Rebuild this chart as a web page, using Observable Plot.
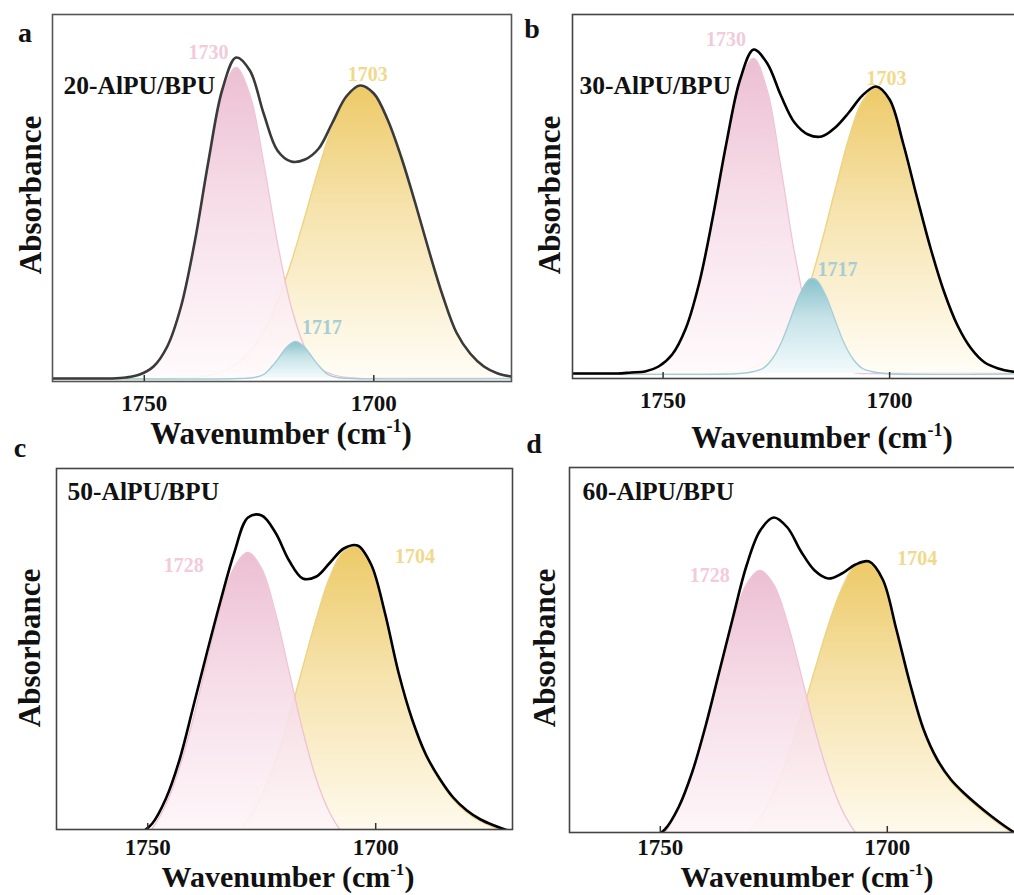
<!DOCTYPE html>
<html><head><meta charset="utf-8">
<script src="https://cdn.jsdelivr.net/npm/d3@7"></script>
<script src="https://cdn.jsdelivr.net/npm/@observablehq/plot@0.6"></script>
<style>
html,body{margin:0;padding:0;background:#fff;overflow:hidden;width:1014px;height:895px;}
#root{position:relative;width:1014px;height:895px;overflow:hidden;background:#fff;}
.panel{position:absolute;}
.panel svg{display:block;max-width:none;overflow:visible;}
</style></head><body><div id="root"></div>
<script>
// ---------- data (absorbance, a.u.) ----------
const xTicks = [1750, 1700];
const sampleNames = ["20-AlPU/BPU", "30-AlPU/BPU", "50-AlPU/BPU", "60-AlPU/BPU"];
const panelLetters = ["a", "b", "c", "d"];

// panels a, b wavenumber grid
const wnAB = [1772,1769,1766,1763,1760,1757,1754,1751,1748,1745,1742,1739,1736,1733,1730,1727,1724,1721,1718,1715,1712,1709,1706,1703,1700,1697,1694,1691,1688,1685,1682,1679,1676,1673,1670,1667];
// panels c, d wavenumber grid
const wnCD = [1773,1770,1767,1764,1761,1758,1755,1752,1749,1746,1743,1740,1737,1734,1731,1728,1725,1722,1719,1716,1713,1710,1707,1704,1701,1698,1695,1692,1689,1686,1683,1680,1677,1674,1671,1668];

// a: 20-AlPU/BPU
const envA    = [0,0,0,0,0,0,0.001,0.004,0.012,0.032,0.072,0.137,0.218,0.289,0.321,0.308,0.265,0.228,0.217,0.219,0.230,0.256,0.282,0.293,0.285,0.259,0.221,0.176,0.128,0.083,0.046,0.025,0.012,0.005,0.002,0.001];
const pinkA   = [0,0,0,0,0,0,0.001,0.004,0.011,0.031,0.072,0.136,0.216,0.284,0.311,0.284,0.216,0.136,0.072,0.031,0.011,0.004,0.001,0,0,0,0,0,0,0,0,0,0,0,0,0];
const yellowA = [0,0,0,0,0,0,0,0,0,0,0.001,0.001,0.003,0.007,0.014,0.027,0.047,0.077,0.116,0.162,0.210,0.252,0.281,0.292,0.284,0.258,0.220,0.175,0.127,0.082,0.045,0.024,0.011,0.005,0.002,0.001];
const blueWnA = [1772,1729,1726,1724,1722,1720,1719,1718,1717,1716,1715,1714,1712,1710,1708,1705,1667];
const blueA   = [0,0,0.001,0.004,0.013,0.025,0.031,0.035,0.037,0.035,0.031,0.025,0.013,0.004,0.001,0,0];

// b: 30-AlPU/BPU
const envB    = [0,0,0,0,0,0.001,0.002,0.007,0.019,0.045,0.091,0.157,0.231,0.294,0.324,0.310,0.278,0.251,0.239,0.237,0.246,0.261,0.278,0.287,0.274,0.230,0.177,0.126,0.082,0.048,0.025,0.011,0.005,0.002,0.001,0];
const pinkB   = [0,0,0,0,0,0.001,0.002,0.007,0.019,0.045,0.091,0.156,0.231,0.291,0.315,0.283,0.206,0.121,0.057,0.022,0.007,0.002,0,0,0,0,0,0,0,0,0,0,0,0,0,0];
const yellowB = [0,0,0,0,0,0,0,0,0,0,0,0,0.001,0.002,0.006,0.013,0.026,0.049,0.084,0.131,0.184,0.235,0.272,0.286,0.272,0.229,0.176,0.125,0.081,0.047,0.024,0.011,0.005,0.002,0.001,0];
const blueWnB = [1772,1733,1730,1728,1726,1724,1722,1720,1718,1717,1716,1714,1712,1710,1708,1706,1704,1701,1667];
const blueB   = [0,0,0.002,0.005,0.014,0.030,0.053,0.077,0.093,0.095,0.093,0.077,0.053,0.030,0.014,0.005,0.002,0,0];

// c: 50-AlPU/BPU
const envC    = [0,0.001,0.002,0.003,0.005,0.008,0.013,0.020,0.031,0.056,0.095,0.148,0.202,0.254,0.302,0.337,0.339,0.322,0.294,0.276,0.278,0.292,0.306,0.309,0.290,0.242,0.182,0.135,0.100,0.076,0.057,0.044,0.035,0.029,0.024,0.020];
const pinkC   = [0,0,0,0,0.001,0.002,0.005,0.012,0.026,0.050,0.087,0.136,0.193,0.247,0.287,0.302,0.286,0.242,0.183,0.124,0.075,0.041,0.020,0.009,0.003,0.001,0,0,0,0,0,0,0,0,0,0];
const yellowC = [0,0,0,0,0,0,0,0,0,0,0.001,0.002,0.005,0.010,0.019,0.035,0.059,0.093,0.137,0.187,0.236,0.278,0.303,0.307,0.287,0.239,0.180,0.133,0.098,0.074,0.055,0.042,0.033,0.027,0.022,0.018];

// d: 60-AlPU/BPU
const envD    = [0,0.001,0.002,0.003,0.005,0.008,0.013,0.019,0.028,0.050,0.085,0.132,0.186,0.240,0.292,0.327,0.340,0.330,0.306,0.287,0.279,0.284,0.293,0.296,0.278,0.228,0.174,0.128,0.098,0.078,0.064,0.052,0.041,0.031,0.022,0.014];
const pinkD   = [0,0,0,0,0.001,0.002,0.005,0.012,0.025,0.048,0.083,0.129,0.183,0.235,0.273,0.287,0.273,0.235,0.183,0.129,0.083,0.048,0.025,0.012,0.005,0.002,0.001,0,0,0,0,0,0,0,0,0];
const yellowD = [0,0,0,0,0,0,0,0,0,0.001,0.001,0.003,0.006,0.012,0.023,0.040,0.065,0.099,0.141,0.187,0.232,0.269,0.292,0.294,0.276,0.226,0.172,0.126,0.096,0.076,0.062,0.050,0.039,0.029,0.020,0.012];

// peak annotations: [wavenumber, absorbance, text, component]
const peakLabelsA = [[1736, 0.3255, "1730", "pink"], [1701.3, 0.3035, "1703", "yellow"], [1711.3, 0.051, "1717", "blue"]];
const peakLabelsB = [[1736.1, 0.3335, "1730", "pink"], [1700.7, 0.2945, "1703", "yellow"], [1711.5, 0.1035, "1717", "blue"]];
const peakLabelsC = [[1742.1, 0.2885, "1728", "pink"], [1691.4, 0.2975, "1704", "yellow"]];
const peakLabelsD = [[1739.1, 0.282, "1728", "pink"], [1693.4, 0.2985, "1704", "yellow"]];

// ---------- styling / layout ----------
const FONT = "'Liberation Serif','Times New Roman',Times,serif";
const comp = {
  pink:   {stops: ["#eab8ce", "#f5d9e5", "#fffafc"], edge: "#efc3d6", label: "#f2cadb"},
  yellow: {stops: ["#edca68", "#f6e3ad", "#fffdf6"], edge: "#eed383", label: "#f1d98c"},
  blue:   {stops: ["#88c1cb", "#c6e3e8", "#f4fbfc"], edge: "#a3cdd5", label: "#a7cdd4"}
};

const panels = [
  {key: "a", left: 0, top: 0, width: 520, height: 460, m: [14, 9, 79, 52], yDomain: [-0.003, 0.364],
   wn: wnAB, env: envA, pink: pinkA, yellow: yellowA, blueWn: blueWnA, blue: blueA, labels: peakLabelsA,
   envColor: "#3a3a3a", frameColor: "#555", name: sampleNames[0], nameDx: 11, nameDy: 79, letter: panelLetters[0],
   letterXY: [25, 42], ylab: [41, 195], xlab: [281, 444], xlabSize: 31, tickPad: 13},
  {key: "b", left: 520, top: 0, width: 520, height: 460, m: [14, 15, 82, 52], yDomain: [-0.005, 0.359],
   wn: wnAB, env: envB, pink: pinkB, yellow: yellowB, blueWn: blueWnB, blue: blueB, labels: peakLabelsB,
   envColor: "#000", frameColor: "#444", name: sampleNames[1], nameDx: 7, nameDy: 79, letter: panelLetters[1],
   letterXY: [12, 38], ylab: [40, 195], xlab: [302, 448], xlabSize: 31, tickPad: 13},
  {key: "c", left: 0, top: 430, width: 520, height: 465, m: [38, 8, 66, 56], yDomain: [0.025, 0.386],
   wn: wnCD, env: envC, pink: pinkC, yellow: yellowC, labels: peakLabelsC,
   envColor: "#000", frameColor: "#444", name: sampleNames[2], nameDx: 11, nameDy: 31, letter: panelLetters[2],
   letterXY: [20, 27], ylab: [40, 218], xlab: [288, 457], xlabSize: 30, tickPad: 9},
  {key: "d", left: 520, top: 430, width: 520, height: 465, m: [37, 17, 63, 49], yDomain: [0.025, 0.390],
   wn: wnCD, env: envD, pink: pinkD, yellow: yellowD, labels: peakLabelsD,
   envColor: "#000", frameColor: "#444", name: sampleNames[3], nameDx: 13, nameDy: 32, letter: panelLetters[3],
   letterXY: [14, 23], ylab: [35, 218], xlab: [287, 457], xlabSize: 30, tickPad: 6}
];

const root = document.getElementById("root");

for (const p of panels) {
  const rows = p.wn.map((w, i) => ({w, env: p.env[i], pink: p.pink[i], yellow: p.yellow[i]}));
  const blueRows = p.blueWn ? p.blueWn.map((w, i) => ({w, v: p.blue[i]})) : null;
  const gid = "grad-" + p.key;
  const curve = "catmull-rom";
  const marks = [
    Plot.areaY(rows, {x: "w", y: "yellow", fill: `url(#${gid}-yellow)`, curve, clip: true}),
    Plot.lineY(rows, {x: "w", y: "yellow", stroke: comp.yellow.edge, strokeWidth: 1.3, curve, clip: true}),
    Plot.areaY(rows, {x: "w", y: "pink", fill: `url(#${gid}-pink)`, fillOpacity: 0.9, curve, clip: true}),
    Plot.lineY(rows, {x: "w", y: "pink", stroke: comp.pink.edge, strokeWidth: 1.3, curve, clip: true})
  ];
  if (blueRows) {
    marks.push(
      Plot.areaY(blueRows, {x: "w", y: "v", fill: `url(#${gid}-blue)`, curve, clip: true}),
      Plot.lineY(blueRows, {x: "w", y: "v", stroke: comp.blue.edge, strokeWidth: 1.3, curve, clip: true})
    );
  }
  marks.push(
    Plot.lineY(rows, {x: "w", y: "env", stroke: p.envColor, strokeWidth: 2.6, curve, clip: true}),
    Plot.frame({stroke: p.frameColor, strokeWidth: 1.6}),
    Plot.ruleX(xTicks, {x: d => d, y1: p.yDomain[0], y2: p.yDomain[0] + 0.006, stroke: "#333", strokeWidth: 1.5}),
    Plot.text(xTicks, {x: d => d, y: p.yDomain[0], text: d => String(d), dy: p.tickPad, lineAnchor: "top",
      fontSize: 23, fontWeight: "bold", fill: "#111"}),
    Plot.text([p.name], {frameAnchor: "top-left", text: d => d, dx: p.nameDx, dy: p.nameDy, lineAnchor: "bottom",
      textAnchor: "start", fontSize: 25.5, fontWeight: "bold", fill: "#111"})
  );
  for (const c of ["pink", "yellow", "blue"]) {
    const lab = p.labels.filter(d => d[3] === c);
    if (lab.length) marks.push(Plot.text(lab, {x: d => d[0], y: d => d[1], text: d => d[2], fill: comp[c].label,
      fontSize: 20, fontWeight: "bold", lineAnchor: "middle", textAnchor: "middle"}));
  }

  const svg = Plot.plot({
    width: p.width, height: p.height,
    marginTop: p.m[0], marginRight: p.m[1], marginBottom: p.m[2], marginLeft: p.m[3],
    x: {domain: [1770, 1670], axis: null},
    y: {domain: p.yDomain, axis: null},
    style: {background: "transparent", overflow: "visible", maxWidth: "none", fontFamily: FONT},
    marks
  });

  const s = d3.select(svg);
  const defs = s.insert("defs", ":first-child");
  for (const c of ["pink", "yellow", "blue"]) {
    const g = defs.append("linearGradient").attr("id", `${gid}-${c}`)
      .attr("x1", 0).attr("y1", 0).attr("x2", 0).attr("y2", 1);
    g.append("stop").attr("offset", "0%").attr("stop-color", comp[c].stops[0]);
    g.append("stop").attr("offset", "42%").attr("stop-color", comp[c].stops[1]);
    g.append("stop").attr("offset", "100%").attr("stop-color", comp[c].stops[2]);
  }
  // panel letter
  s.append("text").attr("x", p.letterXY[0]).attr("y", p.letterXY[1])
    .attr("font-family", FONT).attr("font-size", 28).attr("font-weight", "bold").attr("fill", "#111").text(p.letter);
  // y title
  s.append("text").attr("transform", `translate(${p.ylab[0]},${p.ylab[1]}) rotate(-90)`)
    .attr("text-anchor", "middle").attr("font-family", FONT).attr("font-size", 31).attr("font-weight", "bold")
    .attr("fill", "#111").text("Absorbance");
  // x title with superscript
  const t = s.append("text").attr("x", p.xlab[0]).attr("y", p.xlab[1]).attr("text-anchor", "middle")
    .attr("font-family", FONT).attr("font-size", p.xlabSize).attr("font-weight", "bold").attr("fill", "#111");
  t.append("tspan").text("Wavenumber (cm");
  t.append("tspan").attr("font-size", Math.round(p.xlabSize * 0.58)).attr("dy", -12).text("-1");
  t.append("tspan").attr("dy", 12).text(")");

  const div = document.createElement("div");
  div.className = "panel";
  div.style.left = p.left + "px";
  div.style.top = p.top + "px";
  div.style.width = p.width + "px";
  div.style.height = p.height + "px";
  div.appendChild(svg);
  root.appendChild(div);
}
</script>
</body></html>
